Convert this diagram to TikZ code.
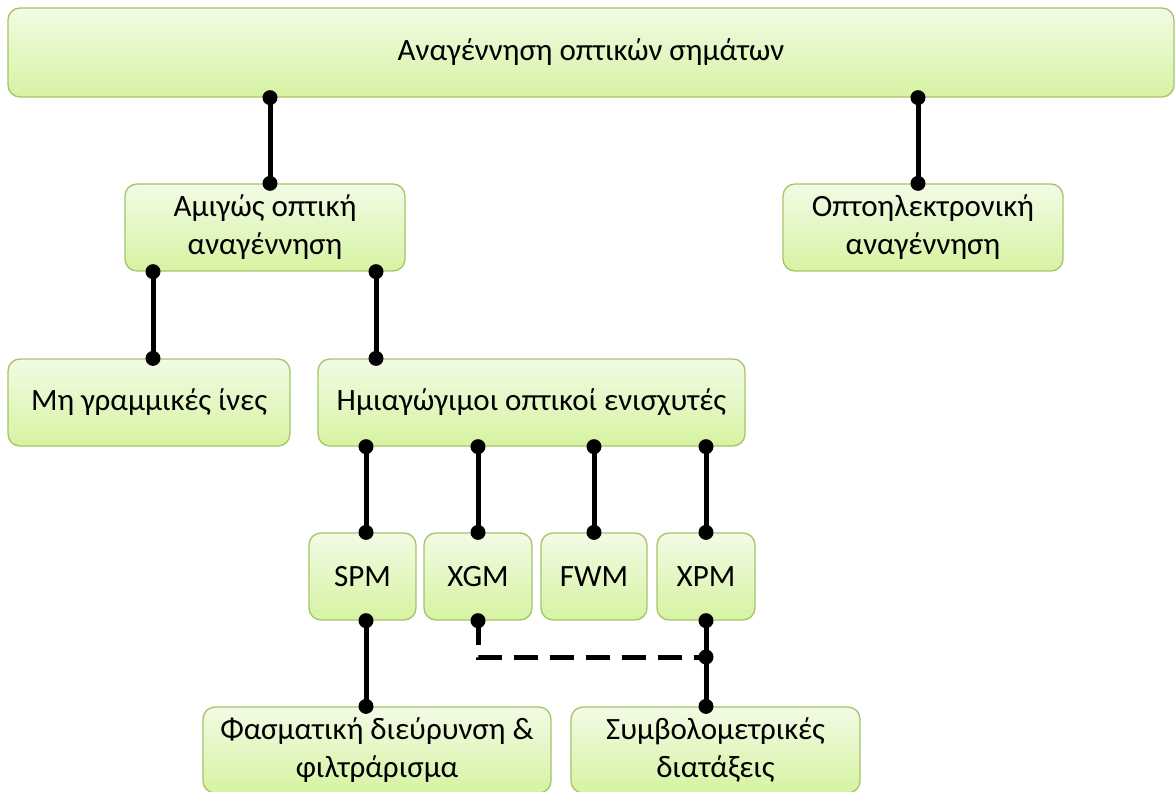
\documentclass[tikz,border=0pt]{standalone}
\usepackage{fontspec}
\setmainfont{Carlito}
\definecolor{boxtop}{HTML}{F2FBE5}
\definecolor{boxbot}{HTML}{D6F3A2}
\definecolor{boxline}{HTML}{A4C46A}
\tikzset{
  box/.style={rectangle, rounded corners=12pt, draw=boxline, line width=1.3pt,
    top color=boxtop, bottom color=boxbot, align=center,
    font=\fontsize{31}{38}\selectfont, inner sep=0pt, minimum height=87pt},
  conn/.style={line width=5pt, black},
  dashconn/.style={line width=5pt, black, dash pattern=on 24pt off 12pt},
  dotmark/.style={fill=black}
}
\newcommand{\dotat}[1]{\fill[dotmark] (#1) circle (7.5pt);}
\begin{document}
\begin{tikzpicture}[x=1pt,y=-1pt]
\useasboundingbox (0,0) rectangle (1175,792);
% boxes
\node[box, minimum width=1166pt, minimum height=89pt] (top) at (591,52.5) {Αναγέννηση οπτικών σημάτων};
\node[box, minimum width=280pt] (amig) at (265,227.5) {Αμιγώς οπτική\\αναγέννηση};
\node[box, minimum width=280pt] (opto) at (923,227.5) {Οπτοηλεκτρονική\\αναγέννηση};
\node[box, minimum width=282pt] (mi) at (149,402.5) {Μη γραμμικές ίνες};
\node[box, minimum width=427pt] (imia) at (531.5,402.5) {Ημιαγώγιμοι οπτικοί ενισχυτές};
\node[box, minimum width=107pt] (spm) at (362.5,576.5) {SPM};
\node[box, minimum width=108pt] (xgm) at (478,576.5) {XGM};
\node[box, minimum width=106pt] (fwm) at (594,576.5) {FWM};
\node[box, minimum width=98pt] (xpm) at (706,576.5) {XPM};
\node[box, minimum width=348pt, minimum height=86pt] (fas) at (377,750) {Φασματική διεύρυνση \&\\φιλτράρισμα};
\node[box, minimum width=289pt, minimum height=86pt] (sym) at (715.5,750) {Συμβολομετρικές\\διατάξεις};
% connector end points
\coordinate (a1) at (top.south -| 270,0);  \coordinate (a2) at (amig.north -| 270,0);
\coordinate (b1) at (top.south -| 918,0);  \coordinate (b2) at (opto.north -| 918,0);
\coordinate (c1) at (amig.south -| 153,0); \coordinate (c2) at (mi.north -| 153,0);
\coordinate (d1) at (amig.south -| 376,0); \coordinate (d2) at (imia.north -| 376,0);
\coordinate (e1) at (imia.south -| 366,0); \coordinate (e2) at (spm.north -| 366,0);
\coordinate (f1) at (imia.south -| 478,0); \coordinate (f2) at (xgm.north -| 478,0);
\coordinate (g1) at (imia.south -| 594,0); \coordinate (g2) at (fwm.north -| 594,0);
\coordinate (h1) at (imia.south -| 706,0); \coordinate (h2) at (xpm.north -| 706,0);
\coordinate (i1) at (spm.south -| 366,0);  \coordinate (i2) at (fas.north -| 366,0);
\coordinate (j1) at (xpm.south -| 706,0);  \coordinate (j2) at (sym.north -| 706,0);
\coordinate (k1) at (xgm.south -| 478,0);  \coordinate (k2) at (706,657);
% connectors
\foreach \p in {a,b,c,d,e,f,g,h,i,j}{
  \draw[conn] (\p1) -- (\p2);
  \dotat{\p1}\dotat{\p2}
}
\draw[dashconn] (k1) |- (k2);
\dotat{k1}\dotat{k2}
\end{tikzpicture}
\end{document}
